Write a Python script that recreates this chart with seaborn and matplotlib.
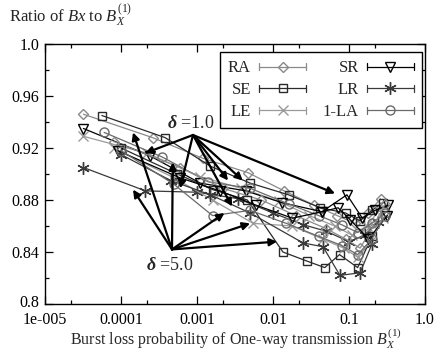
import numpy as np
import pandas as pd
import matplotlib
matplotlib.use("Agg")
import matplotlib.pyplot as plt
import matplotlib.ticker as mticker
from matplotlib.lines import Line2D
from matplotlib.legend_handler import HandlerLine2D
from matplotlib.transforms import ScaledTranslation
import seaborn as sns

# ---------------- data ----------------
methods = ["RA", "SE", "LE", "SR", "LR", "1-LA"]
deltas = ["1.0", "5.0"]

RA_d1_x = [3.2e-5, 2.6e-4, 1.2e-3, 4.7e-3, 0.014, 0.035, 0.07, 0.12, 0.18, 0.26]
RA_d1_y = [0.946, 0.928, 0.912, 0.901, 0.887, 0.876, 0.868, 0.862, 0.870, 0.881]
SE_d1_x = [5.6e-5, 3.8e-4, 1.5e-3, 5.0e-3, 0.016, 0.042, 0.09, 0.14, 0.2, 0.28]
SE_d1_y = [0.945, 0.928, 0.906, 0.893, 0.884, 0.874, 0.870, 0.864, 0.872, 0.878]
LE_d1_x = [3.2e-5, 2.2e-4, 1.1e-3, 3.8e-3, 0.012, 0.03, 0.065, 0.11, 0.17, 0.25]
LE_d1_y = [0.929, 0.916, 0.898, 0.889, 0.879, 0.868, 0.860, 0.853, 0.860, 0.872]
SR_d1_x = [3.2e-5, 2.4e-4, 1.1e-3, 4.4e-3, 0.013, 0.044, 0.094, 0.15, 0.22, 0.33]
SR_d1_y = [0.935, 0.914, 0.893, 0.887, 0.878, 0.871, 0.884, 0.866, 0.872, 0.876]
LR_d1_x = [3.2e-5, 2.1e-4, 1.0e-3, 3.5e-3, 0.010, 0.025, 0.05, 0.10, 0.16, 0.24]
LR_d1_y = [0.905, 0.887, 0.886, 0.881, 0.870, 0.861, 0.856, 0.848, 0.853, 0.863]
LA_d1_x = [6.0e-5, 3.5e-4, 1.4e-3, 5.0e-3, 0.016, 0.04, 0.08, 0.13, 0.2, 0.3]
LA_d1_y = [0.932, 0.913, 0.894, 0.889, 0.877, 0.868, 0.861, 0.855, 0.862, 0.870]

RA_d5_x = [8e-5, 6e-4, 2.2e-3, 7e-3, 0.02, 0.05, 0.09, 0.14, 0.2, 0.3]
RA_d5_y = [0.925, 0.905, 0.889, 0.880, 0.868, 0.858, 0.850, 0.843, 0.858, 0.877]
SE_d5_x = [1.0e-4, 5.5e-4, 1.6e-3, 4.6e-3, 0.0135, 0.028, 0.048, 0.075, 0.13, 0.2]
SE_d5_y = [0.920, 0.900, 0.888, 0.880, 0.840, 0.833, 0.828, 0.838, 0.828, 0.852]
LE_d5_x = [8e-5, 5e-4, 1.6e-3, 5.5e-3, 0.018, 0.045, 0.085, 0.13, 0.19, 0.28]
LE_d5_y = [0.920, 0.897, 0.880, 0.862, 0.860, 0.850, 0.843, 0.836, 0.848, 0.866]
SR_d5_x = [9e-5, 6e-4, 2e-3, 6e-3, 0.018, 0.044, 0.072, 0.103, 0.18, 0.32]
SR_d5_y = [0.918, 0.897, 0.887, 0.876, 0.866, 0.871, 0.874, 0.865, 0.850, 0.868]
LR_d5_x = [1e-4, 4.5e-4, 1.5e-3, 5e-3, 0.0248, 0.0456, 0.076, 0.14, 0.2]
LR_d5_y = [0.915, 0.895, 0.884, 0.870, 0.847, 0.844, 0.822, 0.824, 0.846]
LA_d5_x = [1e-4, 5e-4, 1.6e-3, 5e-3, 0.015, 0.04, 0.08, 0.13, 0.2, 0.3]
LA_d5_y = [0.918, 0.892, 0.868, 0.872, 0.862, 0.852, 0.845, 0.838, 0.850, 0.868]

xtick_vals = [1e-5, 1e-4, 1e-3, 1e-2, 1e-1, 1.0]
xtick_labels = ["1e-005", "0.0001", "0.001", "0.01", "0.1", "1.0"]
ytick_vals = [0.8, 0.84, 0.88, 0.92, 0.96, 1.0]
ytick_labels = ["0.8", "0.84", "0.88", "0.92", "0.96", "1.0"]

# annotation arrows (data coordinates)
d1_origin = (8.85e-4, 0.930)
d1_label = (8.3e-4, 0.939)
d1_tips_x = [2.07e-4, 6.0e-4, 2.56e-3, 4.0e-3, 2.9e-3, 0.0655]
d1_tips_y = [0.916, 0.889, 0.895, 0.895, 0.875, 0.885]
d5_origin = (4.69e-4, 0.842)
d5_label = (4.4e-4, 0.830)
d5_tips_x = [1.44e-4, 4.8e-4, 1.44e-4, 2.3e-3, 5.0e-3, 0.0113]
d5_tips_y = [0.932, 0.909, 0.888, 0.870, 0.862, 0.848]

series = {
    ("RA", "1.0"): (RA_d1_x, RA_d1_y), ("SE", "1.0"): (SE_d1_x, SE_d1_y),
    ("LE", "1.0"): (LE_d1_x, LE_d1_y), ("SR", "1.0"): (SR_d1_x, SR_d1_y),
    ("LR", "1.0"): (LR_d1_x, LR_d1_y), ("1-LA", "1.0"): (LA_d1_x, LA_d1_y),
    ("RA", "5.0"): (RA_d5_x, RA_d5_y), ("SE", "5.0"): (SE_d5_x, SE_d5_y),
    ("LE", "5.0"): (LE_d5_x, LE_d5_y), ("SR", "5.0"): (SR_d5_x, SR_d5_y),
    ("LR", "5.0"): (LR_d5_x, LR_d5_y), ("1-LA", "5.0"): (LA_d5_x, LA_d5_y),
}
rows = []
for (m, d), (xs, ys) in series.items():
    for i, (xv, yv) in enumerate(zip(xs, ys)):
        rows.append(dict(method=m, delta=d, order=i, x=xv, y=yv))
df = pd.DataFrame(rows)

# ---------------- style ----------------
sns.set_theme(style="ticks")
plt.rcParams["font.family"] = ["Liberation Serif", "DejaVu Serif"]
plt.rcParams["mathtext.fontset"] = "custom"
plt.rcParams["mathtext.rm"] = "Liberation Serif"
plt.rcParams["mathtext.it"] = "Liberation Serif:italic"
plt.rcParams["mathtext.bf"] = "Liberation Serif:bold:italic"

colors = {"RA": "#8a8a8a", "SE": "#2a2a2a", "LE": "#9a9a9a",
          "SR": "#000000", "LR": "#3a3a3a", "1-LA": "#6a6a6a"}
markers = {"RA": "D", "SE": "s", "LE": "x", "SR": "v", "LR": (6, 2, 0), "1-LA": "o"}
msizes = {"RA": 5.5, "SE": 6, "LE": 7, "SR": 7, "LR": 9, "1-LA": 6.5}

fig = plt.figure(figsize=(4.41, 3.52), dpi=100)
ax = fig.add_axes([45 / 441, 1 - 304 / 352, 380 / 441, 260 / 352])

for (m, d), sub in df.groupby(["method", "delta"], sort=False):
    sns.lineplot(data=sub.sort_values("order"), x="x", y="y", ax=ax, sort=False,
                 estimator=None, color=colors[m], lw=0.9, marker=markers[m],
                 markersize=msizes[m], fillstyle="none", markeredgewidth=1.0,
                 markeredgecolor=colors[m], legend=False)

ax.set_xscale("log")
ax.set_xlim(1e-5, 1.0)
ax.set_ylim(0.8, 1.0)
ax.set_xticks(xtick_vals)
ax.set_xticklabels(xtick_labels)
ax.xaxis.set_minor_locator(mticker.LogLocator(base=10, subs=[2.2]))
ax.xaxis.set_minor_formatter(mticker.NullFormatter())
ax.set_yticks(ytick_vals)
ax.set_yticklabels(ytick_labels)
ax.yaxis.set_minor_locator(mticker.MultipleLocator(0.02))
ax.tick_params(which="both", direction="in", top=True, right=True, colors="black",
               labelsize=11.5, width=0.9)
ax.tick_params(which="major", length=6)
ax.tick_params(axis="x", which="major", pad=5.5)
ax.tick_params(axis="y", which="major", pad=4)
ax.tick_params(which="minor", length=3)
for s in ax.spines.values():
    s.set_color("black")
    s.set_linewidth(1.0)
ax.set_xlabel("")
ax.set_ylabel("")
# nudge the lowest y label up slightly, as in the reference
lab0 = ax.get_yticklabels()[0]
lab0.set_transform(lab0.get_transform() + ScaledTranslation(0, 2 / 72, fig.dpi_scale_trans))

# arrows
arrow_kw = dict(arrowstyle="-|>", lw=1.6, color="black", mutation_scale=11,
                shrinkA=0, shrinkB=0)
for tx, ty in zip(d1_tips_x, d1_tips_y):
    ax.annotate("", xy=(tx, ty), xytext=d1_origin, arrowprops=arrow_kw)
for tx, ty in zip(d5_tips_x, d5_tips_y):
    ax.annotate("", xy=(tx, ty), xytext=d5_origin, arrowprops=arrow_kw)
ax.text(d1_label[0], d1_label[1], r"$\mathbf{\delta}$ =1.0", fontsize=13,
        ha="center", va="center")
ax.text(d5_label[0], d5_label[1], r"$\mathbf{\delta}$ =5.0", fontsize=13,
        ha="center", va="center")

# legend with error-bar-like caps
class CapHandler(HandlerLine2D):
    def create_artists(self, legend, orig_handle, xdescent, ydescent, width,
                       height, fontsize, trans):
        arts = super().create_artists(legend, orig_handle, xdescent, ydescent,
                                      width, height, fontsize, trans)
        line = arts[0]
        xd = line.get_xdata()
        yd = line.get_ydata()
        h = height * 0.3
        caps = []
        for xx in (xd[0], xd[-1]):
            c = Line2D([xx, xx], [yd[0] - h, yd[0] + h],
                       color=orig_handle.get_color(), lw=orig_handle.get_linewidth())
            c.set_transform(trans)
            caps.append(c)
        return list(arts) + caps

handles = [Line2D([], [], color=colors[m], lw=0.9, marker=markers[m],
                  markersize=msizes[m], fillstyle="none", markeredgewidth=1.0)
           for m in methods]
leg = ax.legend(handles, methods, ncol=2, loc="upper right",
                bbox_to_anchor=(0.992, 0.969), markerfirst=False, fancybox=False,
                edgecolor="black", framealpha=1, fontsize=12, handlelength=2.8,
                columnspacing=1.0, handletextpad=0.5, borderpad=0.5,
                labelspacing=0.35, borderaxespad=0,
                handler_map={Line2D: CapHandler(numpoints=1)})
leg.get_frame().set_linewidth(1.0)

fig.text(9 / 441, 1 - 22 / 352, r"Ratio of $Bx$ to $B_X^{(1)}$", fontsize=12,
         ha="left", va="baseline")
fig.text(236 / 441, 1 - 345 / 352,
         r"Burst loss probability of One-way transmission $B_X^{(1)}$",
         fontsize=11.5, ha="center", va="baseline")

fig.savefig("out.png", dpi=100)
